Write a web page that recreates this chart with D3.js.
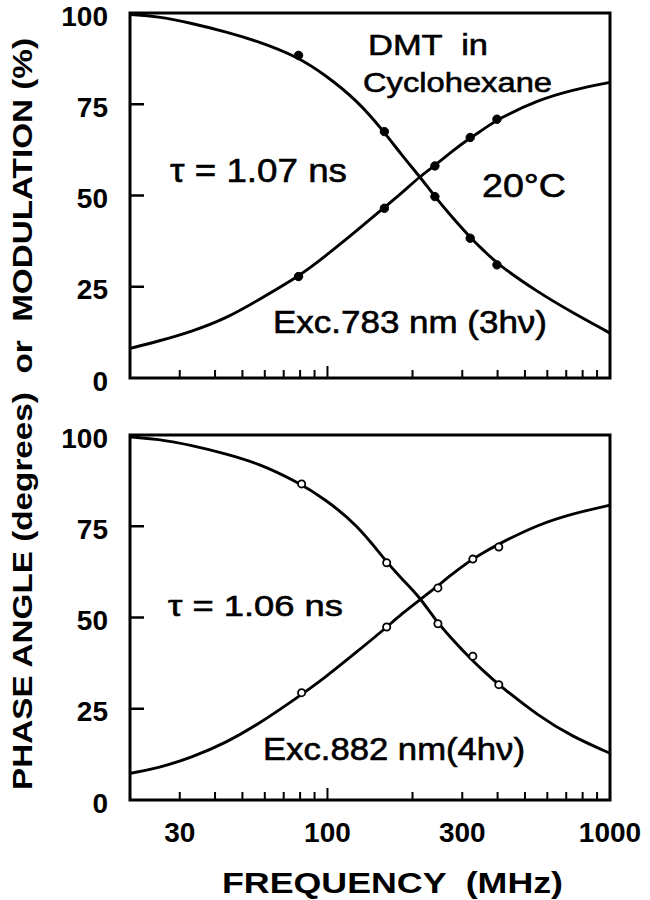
<!DOCTYPE html>
<html>
<head>
<meta charset="utf-8">
<script src="https://cdn.jsdelivr.net/npm/d3@7"></script>
<style>
  html, body { margin: 0; padding: 0; background: #fff; }
  svg { display: block; }
  text { font-family: "Liberation Sans", Arial, sans-serif; fill: #000; white-space: pre; }
</style>
</head>
<body>
<svg id="chart" width="650" height="900"></svg>
<script>
// ---------- data ----------
// frequencies (MHz) at which the drawn curves were read
const curveFreq = [20, 25, 33, 44, 57, 78, 98, 128, 158, 183, 212, 240, 275, 320, 361, 400, 558, 734, 1000];
// top panel (Exc. 783 nm, 3hν, τ = 1.07 ns)
const topPhaseCurve = [8.1, 10.0, 12.7, 16.4, 21.4, 27.5, 33.3, 40.6, 46.6, 50.6, 55.2, 58.2, 62.0, 65.8, 68.4, 70.9, 76.2, 78.9, 81.0];
const topModCurve   = [99.6, 99.1, 97.2, 94.8, 92.2, 88.1, 83.1, 75.9, 67.6, 61.1, 55.2, 49.7, 44.2, 38.5, 34.6, 31.2, 23.4, 18.0, 12.3];
// bottom panel (Exc. 882 nm, 4hν, τ = 1.06 ns)
const botPhaseCurve = [7.3, 8.7, 11.6, 15.8, 20.8, 28.0, 33.5, 40.8, 46.6, 51.0, 54.8, 58.0, 61.8, 65.6, 68.0, 70.0, 75.5, 78.4, 80.8];
const botModCurve   = [99.5, 98.9, 97.2, 94.8, 92.2, 87.2, 82.5, 75.2, 66.2, 60.6, 55.6, 49.5, 44.2, 38.8, 35.0, 31.8, 23.0, 17.4, 12.8];

// measured points
const topPointFreq = [79, 159, 240, 320, 398];
const topPhasePts  = [27.8, 46.5, 58.1, 65.9, 70.9];
const topModPts    = [88.4, 67.5, 49.7, 38.3, 31.0];
const botPointFreq = [81, 162, 246, 327, 404];
const botPhasePts  = [29.4, 47.4, 58.1, 66.0, 69.3];
const botModPts    = [86.6, 65.0, 48.3, 39.4, 31.6];

// ticks
const yTickValues = [0, 25, 50, 75, 100];
const xMinorTicks = [30, 40, 50, 60, 70, 80, 90, 100, 200, 300, 400, 500, 600, 700, 800, 900];
const xTickLabels = [30, 100, 300, 1000];

// texts
const yTitle = "PHASE ANGLE (degrees)  or  MODULATION (%)";
const xTitle = "FREQUENCY  (MHz)";

// ---------- drawing ----------
const svg = d3.select("#chart");
const X0 = 130, X1 = 610;
const x = d3.scaleLog().domain([20, 1000]).range([X0, X1]);

const panels = [
  { y0: 13,  y1: 378, phase: topPhaseCurve, mod: topModCurve, pf: topPointFreq, phasePts: topPhasePts, modPts: topModPts, filled: true,  showX: false },
  { y0: 435, y1: 800, phase: botPhaseCurve, mod: botModCurve, pf: botPointFreq, phasePts: botPhasePts, modPts: botModPts, filled: false, showX: true }
];

panels.forEach(p => {
  const y = d3.scaleLinear().domain([0, 100]).range([p.y1, p.y0]);
  const g = svg.append("g");

  // frame
  g.append("rect")
    .attr("x", X0).attr("y", p.y0)
    .attr("width", X1 - X0).attr("height", p.y1 - p.y0)
    .attr("fill", "none").attr("stroke", "#000").attr("stroke-width", 3);

  // y axis labels
  const yAxis = d3.axisLeft(y).tickValues(yTickValues).tickSize(0).tickPadding(22)
    .tickFormat(d3.format("d"));
  const ya = g.append("g").attr("transform", `translate(${X0},0)`).call(yAxis);
  ya.select(".domain").remove();
  ya.selectAll("text").attr("font-size", 28).attr("font-weight", "bold")
    .attr("font-family", "Liberation Sans, Arial, sans-serif").attr("dy", null)
    .attr("y", 12);
  // inward y ticks
  g.selectAll(".yt").data(yTickValues.filter(v => v > 0 && v < 100)).enter().append("line")
    .attr("x1", X0).attr("x2", X0 + 14)
    .attr("y1", d => y(d)).attr("y2", d => y(d))
    .attr("stroke", "#000").attr("stroke-width", 2.5);

  // x axis: inward ticks
  const xAxis = d3.axisBottom(x).tickValues(xMinorTicks).tickSize(0).tickFormat("");
  const xa = g.append("g").attr("transform", `translate(0,${p.y1})`).call(xAxis);
  xa.select(".domain").remove();
  g.selectAll(".xt").data(xMinorTicks).enter().append("line")
    .attr("x1", d => x(d)).attr("x2", d => x(d))
    .attr("y1", p.y1).attr("y2", d => p.y1 - (d === 100 ? 12 : 8))
    .attr("stroke", "#000").attr("stroke-width", 2);

  if (p.showX) {
    g.selectAll(".xl").data(xTickLabels).enter().append("text")
      .attr("x", d => x(d)).attr("y", p.y1 + 42)
      .attr("text-anchor", "middle")
      .attr("font-size", 28).attr("font-weight", "bold")
      .text(d => d);
  }

  // curves
  const line = d3.line()
    .x((d, i) => x(curveFreq[i]))
    .y(d => y(d))
    .curve(d3.curveBasis);
  [p.phase, p.mod].forEach(arr => {
    g.append("path").attr("d", line(arr))
      .attr("fill", "none").attr("stroke", "#000").attr("stroke-width", 2.9);
  });

  // points
  [p.phasePts, p.modPts].forEach(arr => {
    g.selectAll(null).data(arr).enter().append("circle")
      .attr("cx", (d, i) => x(p.pf[i]))
      .attr("cy", d => y(d))
      .attr("r", p.filled ? 4.2 : 3.6)
      .attr("fill", p.filled ? "#000" : "#fff")
      .attr("stroke", "#000").attr("stroke-width", p.filled ? 1 : 1.8);
  });
});

// annotations
function label(txt, xx, yy, size, len) {
  const t = svg.append("text").attr("x", xx).attr("y", yy)
    .attr("font-size", size)
    .attr("stroke", "#000").attr("stroke-width", 0.6)
    .text(txt);
  if (len) t.attr("textLength", len).attr("lengthAdjust", "spacingAndGlyphs");
  return t;
}
label("DMT  in", 368, 55, 30, 120);
label("Cyclohexane", 363, 92, 28, 189);
label("20°C", 482, 197, 33, 84);
label("τ = 1.07 ns", 170, 182, 34, 177);
label("Exc.783 nm (3hν)", 273, 333, 31, 274);
label("τ = 1.06 ns", 168, 616, 29, 175);
label("Exc.882 nm(4hν)", 263, 760, 31, 262);

// axis titles
svg.append("text")
  .attr("transform", "translate(32,414) rotate(-90)")
  .attr("text-anchor", "middle")
  .attr("font-size", 28).attr("font-weight", "bold")
  .attr("textLength", 752).attr("lengthAdjust", "spacingAndGlyphs")
  .text(yTitle);
svg.append("text")
  .attr("x", 222).attr("y", 893)
  .attr("font-size", 29).attr("font-weight", "bold")
  .attr("textLength", 341).attr("lengthAdjust", "spacingAndGlyphs")
  .text(xTitle);
</script>
</body>
</html>
